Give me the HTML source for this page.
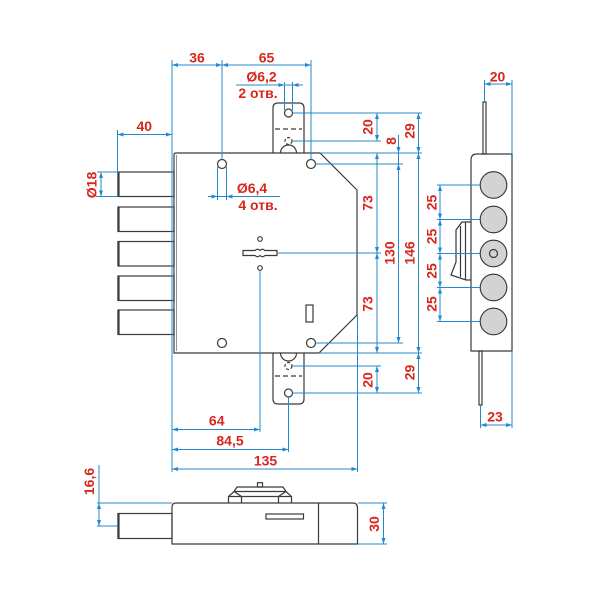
<!DOCTYPE html>
<html><head><meta charset="utf-8"><style>
html,body{margin:0;padding:0;background:#fff;}
svg{display:block;}
.k{fill:none;stroke:#3a3a3a;stroke-width:1.2;}
.b{fill:none;stroke:#2389cf;stroke-width:1;}
.d{fill:none;stroke:#2389cf;stroke-width:1;marker-start:url(#as);marker-end:url(#ae);}
.e{fill:none;stroke:#2389cf;stroke-width:1;marker-end:url(#ae);}
text{font-family:"Liberation Sans","Noto Sans CJK SC",sans-serif;font-weight:bold;font-size:14px;fill:#d9261c;text-anchor:middle;}
</style></head><body>
<svg width="600" height="600" viewBox="0 0 600 600" xmlns="http://www.w3.org/2000/svg">
<defs>
<marker id="ae" markerUnits="userSpaceOnUse" markerWidth="6" markerHeight="4" refX="6" refY="2" orient="auto"><path d="M0,0 L6,2 L0,4 Z" fill="#2389cf"/></marker>
<marker id="as" markerUnits="userSpaceOnUse" markerWidth="6" markerHeight="4" refX="6" refY="2" orient="auto-start-reverse"><path d="M0,0 L6,2 L0,4 Z" fill="#2389cf"/></marker>
</defs>

<!-- ===== main view ===== -->
<!-- bolts -->
<g class="k">
<rect x="118" y="172" width="56" height="24.5"/>
<rect x="118" y="207" width="56" height="24.5"/>
<rect x="118" y="241.5" width="56" height="24.5"/>
<rect x="118" y="276" width="56" height="24.5"/>
<rect x="118" y="310" width="56" height="24.5"/>
</g>
<g stroke="#3a3a3a" stroke-width="2.2">
<line x1="118.5" y1="172" x2="118.5" y2="196.5"/>
<line x1="118.5" y1="207" x2="118.5" y2="231.5"/>
<line x1="118.5" y1="241.5" x2="118.5" y2="266"/>
<line x1="118.5" y1="276" x2="118.5" y2="300.5"/>
<line x1="118.5" y1="310" x2="118.5" y2="334.5"/>
</g>
<!-- body -->
<path class="k" d="M176,153 L320,153 L357,190 L357,315 L319,353 L174,353 L174,155 Q174,153 176,153 Z" fill="#fff"/>
<line x1="176.5" y1="155" x2="176.5" y2="351" stroke="#777" stroke-width="0.8"/>
<!-- tabs -->
<path class="k" d="M273,153 L273,108 Q273,103 278,103 L299,103 Q304,103 304,108 L304,153"/>
<circle class="k" cx="288.5" cy="113" r="4"/>
<line class="k" x1="275" y1="129" x2="302" y2="129" stroke-dasharray="5,3"/>
<circle class="k" cx="288.5" cy="141" r="3.5" stroke-dasharray="3,2"/>
<path class="k" d="M280.5,153 A8,8 0 0 1 296.5,153"/>
<path class="k" d="M273,353 L273,399 Q273,404 278,404 L299,404 Q304,404 304,399 L304,353"/>
<circle class="k" cx="288.5" cy="393" r="4"/>
<line class="k" x1="275" y1="376" x2="302" y2="376" stroke-dasharray="5,3"/>
<circle class="k" cx="288.5" cy="366" r="3.5" stroke-dasharray="3,2"/>
<path class="k" d="M280.5,353 A8,8 0 0 0 296.5,353"/>
<!-- holes -->
<circle class="k" cx="222" cy="164" r="4.5"/>
<circle class="k" cx="311" cy="164" r="4.5"/>
<circle class="k" cx="222" cy="343" r="4.5"/>
<circle class="k" cx="311" cy="343" r="4.5"/>
<!-- keyhole -->
<circle class="k" cx="260" cy="239" r="2.3" stroke-width="1"/>
<circle class="k" cx="260" cy="268" r="2.3" stroke-width="1"/>
<path class="k" stroke-width="1" d="M243,250.5 L255,250.5 Q257.5,248 260,250.5 Q262.5,248 265,250.5 L277,250.5 L277,255.5 L265,255.5 Q262.5,258 260,255.5 Q257.5,258 255,255.5 L243,255.5 Z"/>
<rect class="k" x="306" y="305" width="7" height="17" stroke-width="1"/>

<!-- blue extension lines main -->
<g class="b">
<line x1="172" y1="60" x2="172" y2="472"/>
<line x1="222" y1="60" x2="222" y2="159.5"/>
<line x1="311" y1="60" x2="311" y2="159.5"/>
<line x1="284.5" y1="82" x2="284.5" y2="110"/>
<line x1="292.5" y1="82" x2="292.5" y2="110"/>
<line x1="217.5" y1="167" x2="217.5" y2="200"/>
<line x1="226.5" y1="167" x2="226.5" y2="200"/>
<line x1="117.5" y1="130" x2="117.5" y2="172"/>
<line x1="97" y1="172" x2="118" y2="172"/>
<line x1="97" y1="196.5" x2="118" y2="196.5"/>
<line x1="292.5" y1="113" x2="422" y2="113"/>
<line x1="292" y1="141" x2="381" y2="141"/>
<line x1="320" y1="153" x2="422" y2="153"/>
<line x1="315.5" y1="164" x2="403" y2="164"/>
<line x1="277" y1="253" x2="381" y2="253"/>
<line x1="315.5" y1="343" x2="403" y2="343"/>
<line x1="319" y1="353" x2="422" y2="353"/>
<line x1="292" y1="366" x2="381" y2="366"/>
<line x1="292.5" y1="393" x2="422" y2="393"/>
<line x1="260" y1="270.5" x2="260" y2="432"/>
<line x1="288.5" y1="397" x2="288.5" y2="452"/>
<line x1="357.5" y1="315" x2="357.5" y2="472"/>
<line x1="398.5" y1="153" x2="398.5" y2="164"/>
<line x1="284.5" y1="85" x2="292.5" y2="85"/>
<line x1="217.5" y1="196.5" x2="226.5" y2="196.5"/>
</g>
<!-- dimension lines -->
<line class="d" x1="172" y1="65" x2="222" y2="65"/>
<line class="d" x1="222" y1="65" x2="311" y2="65"/>
<line class="e" x1="236" y1="85" x2="284.5" y2="85"/>
<line class="e" x1="303" y1="85" x2="292.5" y2="85"/>
<line class="e" x1="208" y1="196.5" x2="217.5" y2="196.5"/>
<line class="e" x1="280" y1="196.5" x2="226.5" y2="196.5"/>
<line class="d" x1="117.5" y1="134.5" x2="172" y2="134.5"/>
<line class="d" x1="101" y1="172" x2="101" y2="196.5"/>
<line class="d" x1="377" y1="113" x2="377" y2="141"/>
<line class="d" x1="377" y1="153" x2="377" y2="253"/>
<line class="d" x1="377" y1="253" x2="377" y2="353"/>
<line class="d" x1="377" y1="366" x2="377" y2="393"/>
<line class="e" x1="398.5" y1="135" x2="398.5" y2="153"/>
<line class="d" x1="398.5" y1="164" x2="398.5" y2="343"/>
<line class="d" x1="418.5" y1="113" x2="418.5" y2="153"/>
<line class="d" x1="418.5" y1="153" x2="418.5" y2="353"/>
<line class="d" x1="418.5" y1="353" x2="418.5" y2="393"/>
<line class="d" x1="172" y1="429.5" x2="260" y2="429.5"/>
<line class="d" x1="172" y1="449.5" x2="288.5" y2="449.5"/>
<line class="d" x1="172" y1="469" x2="357.5" y2="469"/>

<!-- labels main -->
<text x="197" y="62.5">36</text>
<text x="266.5" y="62.5">65</text>
<text x="261.5" y="81.5">Ø6,2</text>
<text x="258" y="98">2 отв.</text>
<text x="252" y="193">Ø6,4</text>
<text x="258" y="210">4 отв.</text>
<text x="144.3" y="131">40</text>
<text transform="translate(91.7,185) rotate(-90)" dy="5">Ø18</text>
<text transform="translate(367.5,127) rotate(-90)" dy="5">20</text>
<text transform="translate(391,141) rotate(-90)" dy="5">8</text>
<text transform="translate(409.5,131) rotate(-90)" dy="5">29</text>
<text transform="translate(367.5,203) rotate(-90)" dy="5">73</text>
<text transform="translate(389.5,253) rotate(-90)" dy="5">130</text>
<text transform="translate(409.5,253) rotate(-90)" dy="5">146</text>
<text transform="translate(367.5,304) rotate(-90)" dy="5">73</text>
<text transform="translate(367.5,380) rotate(-90)" dy="5">20</text>
<text transform="translate(409.5,372.5) rotate(-90)" dy="5">29</text>
<text x="216.7" y="425.5">64</text>
<text x="230" y="445.5">84,5</text>
<text x="265.5" y="465.5">135</text>

<!-- ===== right view ===== -->
<rect class="k" x="483" y="102" width="3" height="52" stroke-width="1"/>
<rect class="k" x="479" y="351" width="3" height="54" stroke-width="1"/>
<path class="k" d="M471,160 Q471,154 477,154 L512,154 L512,351 L471,351 Z"/>
<path class="k" stroke-width="1" d="M471,222 L462,222 L456,230 L456,262 L451,275 L466,280 L471,280"/>
<line class="k" stroke-width="1" x1="460.5" y1="226" x2="460.5" y2="277"/>
<line class="k" stroke-width="1" x1="465.5" y1="222" x2="465.5" y2="280"/>
<g stroke="#333" stroke-width="1.1" fill="#d3d3d3">
<circle cx="493.5" cy="185" r="13.3"/>
<circle cx="493.5" cy="219.5" r="13.3"/>
<circle cx="493.5" cy="253.5" r="13.3"/>
<circle cx="493.5" cy="287.5" r="13.3"/>
<circle cx="493.5" cy="321.5" r="13.3"/>
</g>
<circle class="k" cx="493.5" cy="253.5" r="4" stroke-width="1"/>
<g class="b">
<line x1="484.5" y1="80" x2="484.5" y2="102"/>
<line x1="512" y1="80" x2="512" y2="154"/>
<line x1="480.5" y1="405" x2="480.5" y2="428"/>
<line x1="512" y1="351" x2="512" y2="428"/>
<line x1="437" y1="185" x2="480" y2="185"/>
<line x1="437" y1="219.5" x2="480" y2="219.5"/>
<line x1="437" y1="253.5" x2="480" y2="253.5"/>
<line x1="437" y1="287.5" x2="480" y2="287.5"/>
<line x1="437" y1="321.5" x2="480" y2="321.5"/>
</g>
<line class="d" x1="484.5" y1="84" x2="512" y2="84"/>
<line class="d" x1="480.5" y1="425" x2="512" y2="425"/>
<line class="d" x1="440" y1="185" x2="440" y2="219.5"/>
<line class="d" x1="440" y1="219.5" x2="440" y2="253.5"/>
<line class="d" x1="440" y1="253.5" x2="440" y2="287.5"/>
<line class="d" x1="440" y1="287.5" x2="440" y2="321.5"/>
<text x="497.5" y="81.5">20</text>
<text x="495" y="421.5">23</text>
<text transform="translate(431.7,202.5) rotate(-90)" dy="5">25</text>
<text transform="translate(431.7,236.5) rotate(-90)" dy="5">25</text>
<text transform="translate(431.7,271) rotate(-90)" dy="5">25</text>
<text transform="translate(431.7,304) rotate(-90)" dy="5">25</text>

<!-- ===== bottom view ===== -->
<rect class="k" x="118" y="513.5" width="54" height="25"/>
<line x1="118.5" y1="513.5" x2="118.5" y2="538.5" stroke="#3a3a3a" stroke-width="2.2"/>
<path class="k" d="M176,503 L353,503 Q357.5,503 357.5,508 L357.5,544 L172,544 L172,507 Q172,503 176,503 Z" fill="#fff"/>
<line class="k" x1="318.5" y1="503" x2="318.5" y2="544"/>
<rect class="k" x="266" y="514" width="37.5" height="5" stroke-width="1"/>
<g class="k" stroke-width="1">
<path d="M228.5,502.5 V496.5 L234,491.5 H286 L291.5,496.5 V502.5"/>
<path d="M234,491.5 L241.5,496.5 V502.5"/>
<path d="M286,491.5 L278.5,496.5 V502.5"/>
<line x1="228.5" y1="496.5" x2="291.5" y2="496.5"/>
<path d="M234,491.5 L237,487 H283 L286,491.5"/>
<rect x="257.5" y="482.7" width="5" height="4.3"/>
</g>
<g class="b">
<line x1="99" y1="465" x2="99" y2="503"/>
<line x1="97" y1="503" x2="172" y2="503"/>
<line x1="97" y1="526" x2="118" y2="526"/>
<line x1="358" y1="503" x2="387" y2="503"/>
<line x1="358" y1="544" x2="387" y2="544"/>
</g>
<line class="d" x1="99" y1="503" x2="99" y2="526"/>
<line class="d" x1="383.5" y1="503" x2="383.5" y2="544"/>
<text transform="translate(89,481.5) rotate(-90)" dy="5">16,6</text>
<text transform="translate(374,524) rotate(-90)" dy="5">30</text>
</svg>
</body></html>
